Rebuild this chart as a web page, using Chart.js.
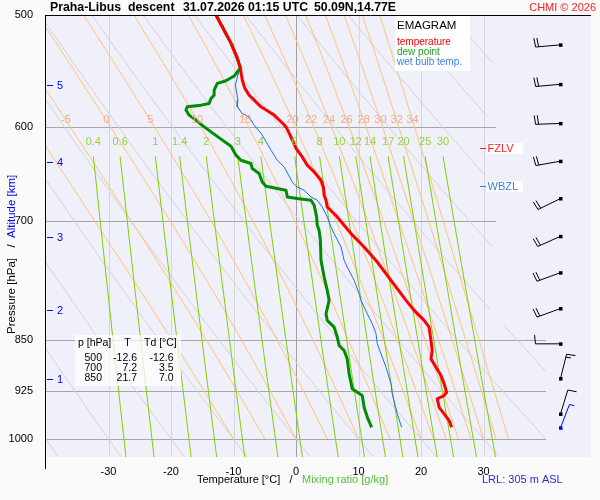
<!DOCTYPE html>
<html>
<head>
<meta charset="utf-8">
<script src="https://cdn.jsdelivr.net/npm/chart.js@4"></script>
<style>
  html, body { margin: 0; padding: 0; background: #fafafa; }
  #wrap { width: 600px; height: 500px; position: relative; }
</style>
</head>
<body>
<div id="wrap"><canvas id="emagram"></canvas></div>
<script>
// Sounding profiles (pressure hPa, temperature °C).
const tempP = [500, 509.7, 523.5, 536.5, 545.3, 556.1, 563.5, 570, 581, 588.9, 595.4, 600.4, 610.3, 621.9, 630.6,
  639.2, 646.2, 655.1, 662.9, 671.4, 676.9, 684.4, 695.6, 714.8, 730.6, 748.8, 771.6, 788.6, 797.3, 810.5,
  823.8, 833, 851.3, 865.4, 877.3, 889.4, 901.5, 913.9, 926.5, 931.5, 936.6, 949.6, 959.9, 970.5, 981.2];
const tempT = [-12.8, -11.8, -10.4, -9.4, -8.9, -8.6, -8.2, -7.5, -5.6, -3.5, -2.4, -1.6, -0.8, 0.0, 1.0,
  1.8, 2.9, 4.0, 4.4, 4.5, 4.8, 5.0, 6.6, 8.8, 10.9, 13.0, 15.2, 16.8, 17.6, 18.9,
  20.5, 21.3, 21.6, 21.8, 21.6, 22.4, 23.2, 23.7, 24.1, 23.7, 22.6, 22.9, 23.7, 24.5, 24.9];

const dewP = [500, 509.7, 523.5, 536.5, 545.3, 552.5, 556.8, 559.2, 565.3, 570, 573.1, 577.8, 579.4, 581, 584.1,
  588.9, 593.8, 600.3, 605.3, 612.5, 619.6, 628.8, 634, 637.4, 642.7, 648, 656.9, 661.6, 664.1, 665.9,
  673.3, 675, 676.9, 682.5, 695.6, 705.2, 711, 722.7, 746.7, 767.4, 784.4, 797.3, 814.9, 823.8, 833,
  846.6, 858.3, 865.4, 877.3, 899, 921.4, 926.5, 931.5, 949.6, 964.9, 981.2];
const dewT = [-12.8, -11.8, -10.4, -9.4, -8.9, -9.9, -11.2, -12.6, -13.1, -13.1, -13.6, -13.9, -15.2, -17.4, -17.6,
  -17.1, -16.0, -14.7, -13.6, -12.0, -10.4, -9.6, -8.8, -7.2, -7.0, -5.9, -5.4, -4.8, -3.0, -1.6,
  -1.4, 0.2, 2.4, 2.9, 3.3, 3.4, 3.7, 3.9, 4.0, 4.5, 5.0, 5.3, 4.8, 5.0, 6.1,
  6.6, 6.9, 7.7, 8.2, 8.5, 9.0, 9.8, 10.6, 10.9, 11.4, 12.1];

const wbP = [500, 509.7, 523.5, 536.5, 545.3, 551.6, 560.7, 574.7, 581, 587.3, 590.6, 598.7, 606.6, 615, 623.7,
  634, 641, 656.9, 661.6, 665.9, 673.3, 676.9, 684.4, 695.6, 707.1, 714.8, 730.6, 746.7, 755, 771.6,
  788.6, 797.3, 814.9, 828.3, 841.9, 855.9, 870.1, 889.4, 913.9, 929, 959.9, 981.2];
const wbT = [-12.8, -11.8, -10.4, -9.4, -8.9, -9.3, -9.7, -9.3, -9.4, -8.6, -7.5, -6.7, -5.6, -4.8, -4.0,
  -3.0, -1.9, -0.6, 0.0, 1.3, 2.4, 3.4, 4.2, 5.0, 5.6, 6.1, 7.2, 7.7, 8.2, 9.3,
  10.1, 10.4, 11.4, 12.2, 12.8, 13.0, 13.6, 14.4, 15.2, 15.4, 16.2, 16.9];

// Winds (direction from, degrees; speed, kt)
const windP = [525, 560, 597, 635, 675, 718, 762, 808, 856, 906, 960, 982];
const windDir = [265, 265, 268, 260, 244, 246, 250, 250, 270, 14, 17, 21];
const windSpd = [20, 20, 20, 20, 20, 20, 20, 20, 10, 15, 10, 5];

// Altitude marks (km) and the pressure they fall on
const altKm = [1, 2, 3, 4, 5];
const altP = [906, 809.5, 719, 636, 561];

// Freezing level and wet bulb zero level (hPa)
const fzlvP = 621.6;
const wbzlP = 661.6;

// Table in the lower left
const tableP = [500, 700, 850];
const tableT = [-12.6, 7.2, 21.7];
const tableTd = [-12.6, 3.5, 7.0];

// Axes and isopleth values
const pressureTicks = [500, 600, 700, 850, 925, 1000];
const isotherms = [-30, -20, -10, 0, 10, 20, 30];
const dryTheta = [-40, -30, -20, -10, 0, 10, 20, 30, 40, 50, 60, 70, 80, 90, 100, 110, 120];
const wetTheta = [-10, -5, 0, 5, 10, 15, 20, 22, 24, 26, 28, 30, 32, 34];
const mixRatios = [0.4, 0.6, 1, 1.4, 2, 3, 4, 6, 8, 10, 12, 14, 17, 20, 25, 30];

const FONT = "'Liberation Sans', Arial, Helvetica, sans-serif";
Chart.defaults.font.family = FONT;
Chart.defaults.font.size = 11;
Chart.defaults.color = "#000";

const toPts = (ps, ts) => ps.map((p, i) => ({ x: ts[i], y: p }));

// dry adiabat: potential temperature held constant
function dryLine(thC) {
  const pts = [];
  for (let p = 500; p <= 1030; p += 10) {
    const t = (thC + 273.15) * Math.pow(p / 1000, 0.2857) - 273.15;
    // the upper right corner of the diagram is left empty
    pts.push({ x: (t <= 31.5 || p >= 830) ? t : NaN, y: p });
  }
  return pts;
}

function moistRate(T, p) {
  const es = 6.112 * Math.exp(17.67 * (T - 273.15) / (T - 29.65));
  const rs = 0.622 * es / (p - es);
  const num = 287.04 * T + 2.501e6 * rs;
  const den = 1005.7 + 2.501e6 * 2.501e6 * rs * 0.622 / (287.04 * T * T);
  return num / den;
}

// pseudo adiabat lifted from 1000 hPa
function wetLine(twC) {
  const pts = [{ x: twC, y: 1000 }];
  let T = twC + 273.15;
  for (let p = 1000; p > 500; p -= 5) {
    const p2 = p - 5;
    const dl = Math.log(p2 / p);
    const k1 = moistRate(T, p);
    const k2 = moistRate(T + k1 * dl, p2);
    T += 0.5 * (k1 + k2) * dl;
    if (p2 % 10 === 0) pts.push({ x: T - 273.15, y: p2 });
  }
  return pts;
}

// saturation mixing ratio line
function mixLine(w) {
  const pts = [];
  for (let p = 630; p <= 1030; p += 20) {
    const l = Math.log((w * p / (622 + w)) / 6.112);
    pts.push({ x: 243.5 * l / (17.67 - l), y: p });
  }
  return pts;
}

function joinLines(lines) {
  const out = [];
  lines.forEach((l) => { out.push(...l, { x: NaN, y: 700 }); });
  return out;
}

const wetLines = wetTheta.map(wetLine);
const mixLines = mixRatios.map(mixLine);

function lineSet(label, data, color, width, order) {
  return {
    label, data, order,
    borderColor: color, borderWidth: width,
    showLine: true, pointRadius: 0, spanGaps: false, tension: 0,
    borderJoinStyle: "round",
  };
}

function text(ctx, s, x, y, color, size, align, weight) {
  ctx.font = (weight || "") + " " + size + "px " + FONT;
  ctx.fillStyle = color;
  ctx.textAlign = align || "left";
  ctx.textBaseline = "middle";
  ctx.fillText(s, x, y);
}

function seg(ctx, x1, y1, x2, y2) {
  ctx.beginPath();
  ctx.moveTo(x1, y1);
  ctx.lineTo(x2, y2);
  ctx.stroke();
}

function lineAt(pts, p) {
  for (let i = 1; i < pts.length; i++) {
    const a = pts[i - 1], b = pts[i];
    if ((p - a.y) * (p - b.y) <= 0) {
      return a.x + (b.x - a.x) * (p - a.y) / (b.y - a.y);
    }
  }
  return NaN;
}

function drawBarb(ctx, sx, sy, dir, spd, color) {
  const r = dir * Math.PI / 180;
  const dx = Math.sin(r), dy = -Math.cos(r);
  const L = 25;
  const tx = sx + dx * L, ty = sy + dy * L;
  ctx.strokeStyle = color;
  ctx.fillStyle = color;
  ctx.lineWidth = 1;
  seg(ctx, sx, sy, tx, ty);
  const lean = 6 * Math.PI / 180;
  const ux = -dy * Math.cos(lean) + dx * Math.sin(lean);
  const uy = dx * Math.cos(lean) + dy * Math.sin(lean);
  let pos = 0;
  for (let i = 0; i < Math.floor(spd / 10); i++, pos++) {
    const bx = tx - dx * pos * 3, by = ty - dy * pos * 3;
    seg(ctx, bx, by, bx + ux * 9, by + uy * 9);
  }
  if (spd % 10 >= 5) {
    const bx = tx - dx * pos * 3, by = ty - dy * pos * 3;
    seg(ctx, bx, by, bx + ux * 5, by + uy * 5);
  }
  ctx.fillRect(sx - 1.5, sy - 1.5, 3.5, 3.5);
}

const emagramPlugin = {
  id: "emagram",
  beforeDraw(chart) {
    const { ctx, chartArea: a, scales: { x, y } } = chart;
    ctx.save();
    ctx.fillStyle = "#fafafa";
    ctx.fillRect(0, 0, chart.width, chart.height);
    ctx.fillStyle = "#f0f0fa";
    ctx.fillRect(a.left, a.top, a.right - a.left + 45, a.bottom - a.top);
    ctx.lineWidth = 1;
    for (const t of isotherms) {
      const px = Math.round(x.getPixelForValue(t)) + 0.5;
      ctx.strokeStyle = t === 0 ? "#a0a0a0" : "#d6d6d6";
      seg(ctx, px, a.top, px, a.bottom);
    }
    for (const p of pressureTicks) {
      if (p === 500) continue;
      const py = Math.round(y.getPixelForValue(p)) + 0.5;
      const xr = p < 800 ? x.getPixelForValue(32) : a.right;
      ctx.strokeStyle = "#a6a6a6";
      seg(ctx, a.left, py, xr, py);
    }
    ctx.restore();
  },
  afterDatasetsDraw(chart) {
    const { ctx, chartArea: a, scales: { x, y } } = chart;
    ctx.save();
    // isopleth labels
    const yw = y.getPixelForValue(594);
    wetTheta.forEach((th, i) => {
      const px = x.getPixelForValue(lineAt(wetLines[i], 594));
      if (px > a.left + 6 && px < a.right - 6) text(ctx, String(th), px, yw, "#f5a88e", 11, "center");
    });
    const ym = y.getPixelForValue(615.6);
    mixRatios.forEach((w, i) => {
      const px = x.getPixelForValue(mixLines[i][0].x);
      text(ctx, String(w), px, ym, "#94d23c", 11, "center");
    });

    // legend box
    ctx.fillStyle = "rgba(255,255,255,0.92)";
    ctx.fillRect(395, 16, 75, 55);
    text(ctx, "EMAGRAM", 397, 26, "#000", 11.5);
    text(ctx, "temperature", 397, 42, "#ff0000", 10);
    text(ctx, "dew point", 397, 52, "#22a022", 10);
    text(ctx, "wet bulb temp.", 397, 62, "#3a7ff0", 10);

    // value table
    ctx.fillStyle = "rgba(255,255,255,0.72)";
    ctx.fillRect(75, 335, 106, 51);
    text(ctx, "p [hPa]", 78, 343, "#000", 10.5);
    text(ctx, "T", 127.5, 343, "#000", 10.5, "center");
    text(ctx, "Td [°C]", 144, 343, "#000", 10.5);
    tableP.forEach((p, i) => {
      const ty = 358 + i * 10;
      text(ctx, String(p), 102, ty, "#000", 10.5, "right");
      text(ctx, tableT[i].toFixed(1), 137, ty, "#000", 10.5, "right");
      text(ctx, tableTd[i].toFixed(1), 173.5, ty, "#000", 10.5, "right");
    });

    // freezing level / wet bulb zero
    const levels = [[fzlvP, "FZLV", "#ff2020"], [wbzlP, "WBZL", "#3a7ff0"]];
    for (const [p, s, c] of levels) {
      const py = Math.round(y.getPixelForValue(p)) + 0.5;
      ctx.fillStyle = "#ffffff";
      ctx.fillRect(487, py - 5.5, 36, 11);
      ctx.strokeStyle = c;
      ctx.lineWidth = 1;
      seg(ctx, 480, py, 486, py);
      text(ctx, s, 487.5, py, c, 11);
    }

    // altitude marks
    altKm.forEach((km, i) => {
      const py = Math.round(y.getPixelForValue(altP[i])) + 0.5;
      ctx.strokeStyle = "#0000ee";
      ctx.lineWidth = 1;
      seg(ctx, 47, py, 53, py);
      text(ctx, String(km), 57, py, "#0000ee", 11);
    });
    ctx.restore();
  },
  afterDraw(chart) {
    const { ctx, chartArea: a, scales: { y } } = chart;
    ctx.save();
    ctx.strokeStyle = "#000";
    ctx.lineWidth = 1;
    seg(ctx, a.left - 0.5, a.top + 0.5, a.right + 45, a.top + 0.5);
    seg(ctx, a.left - 0.5, a.top, a.left - 0.5, a.bottom + 12);

    // wind barbs
    windP.forEach((p, i) => {
      const sy = y.getPixelForValue(p);
      const col = i === windP.length - 1 ? "#0000ff" : "#000";
      drawBarb(ctx, 560.5, sy, windDir[i], windSpd[i], col);
    });

    // title
    text(ctx, "Praha-Libus", 50, 8, "#000", 12.3, "left", "bold");
    text(ctx, "descent", 128, 8, "#000", 12.3, "left", "bold");
    text(ctx, "31.07.2026 01:15 UTC", 183, 8, "#000", 12.3, "left", "bold");
    text(ctx, "50.09N,14.77E", 314, 8, "#000", 12.3, "left", "bold");
    text(ctx, "CHMI © 2026", 596, 8, "#ff2020", 11, "right");

    // x title
    text(ctx, "Temperature [°C]", 197, 480, "#000", 11);
    text(ctx, "/", 291, 480, "#000", 11, "center");
    text(ctx, "Mixing ratio [g/kg]", 302, 480, "#55c035", 11);
    text(ctx, "LRL: 305 m ASL", 482, 480, "#2b2bd9", 11);

    // y title
    ctx.translate(12, 0);
    ctx.rotate(-Math.PI / 2);
    text(ctx, "Pressure [hPa]", -334, 0, "#000", 11.5);
    text(ctx, "/", -246, 0, "#000", 11.5, "center");
    text(ctx, "Altitude [km]", -238, 0, "#0000ee", 11.5);
    ctx.restore();
  },
};

new Chart(document.getElementById("emagram"), {
  type: "scatter",
  data: {
    datasets: [
      lineSet("temperature", toPts(tempP, tempT), "#ff0000", 3, 0),
      lineSet("dew point", toPts(dewP, dewT), "#008c00", 3, 1),
      lineSet("wet bulb temp.", toPts(wbP, wbT), "#1f6cf0", 1, 2),
      lineSet("mixing ratio", joinLines(mixLines), "#80d000", 1, 3),
      lineSet("wet adiabats", joinLines(wetLines), "#ffc27a", 1, 4),
      lineSet("dry adiabats", joinLines(dryTheta.map(dryLine)), "#d4d4d4", 1, 5),
    ],
  },
  options: {
    responsive: true,
    maintainAspectRatio: false,
    animation: false,
    events: [],
    layout: { padding: { left: 0, right: 54, top: 15, bottom: 0 } },
    plugins: { legend: { display: false }, tooltip: { enabled: false } },
    scales: {
      x: {
        type: "linear",
        min: -40,
        max: 40,
        grid: { display: false },
        border: { display: false },
        ticks: {
          stepSize: 10,
          padding: 0,
          maxRotation: 0,
          autoSkip: false,
          color: "#000",
          callback: (v) => (v === -40 || v === 40 ? "" : v),
        },
        afterFit: (s) => { s.height = 43; },
      },
      y: {
        type: "logarithmic",
        reverse: true,
        min: 500,
        max: 1030,
        grid: { display: false },
        border: { display: false },
        ticks: {
          padding: 5,
          autoSkip: false,
          color: "#000",
          callback: (v) => (pressureTicks.includes(v) ? String(v) : ""),
        },
        afterBuildTicks: (s) => { s.ticks = pressureTicks.map((v) => ({ value: v })); },
        afterFit: (s) => { s.width = 46; },
      },
    },
  },
  plugins: [emagramPlugin],
});
</script>
</body>
</html>
